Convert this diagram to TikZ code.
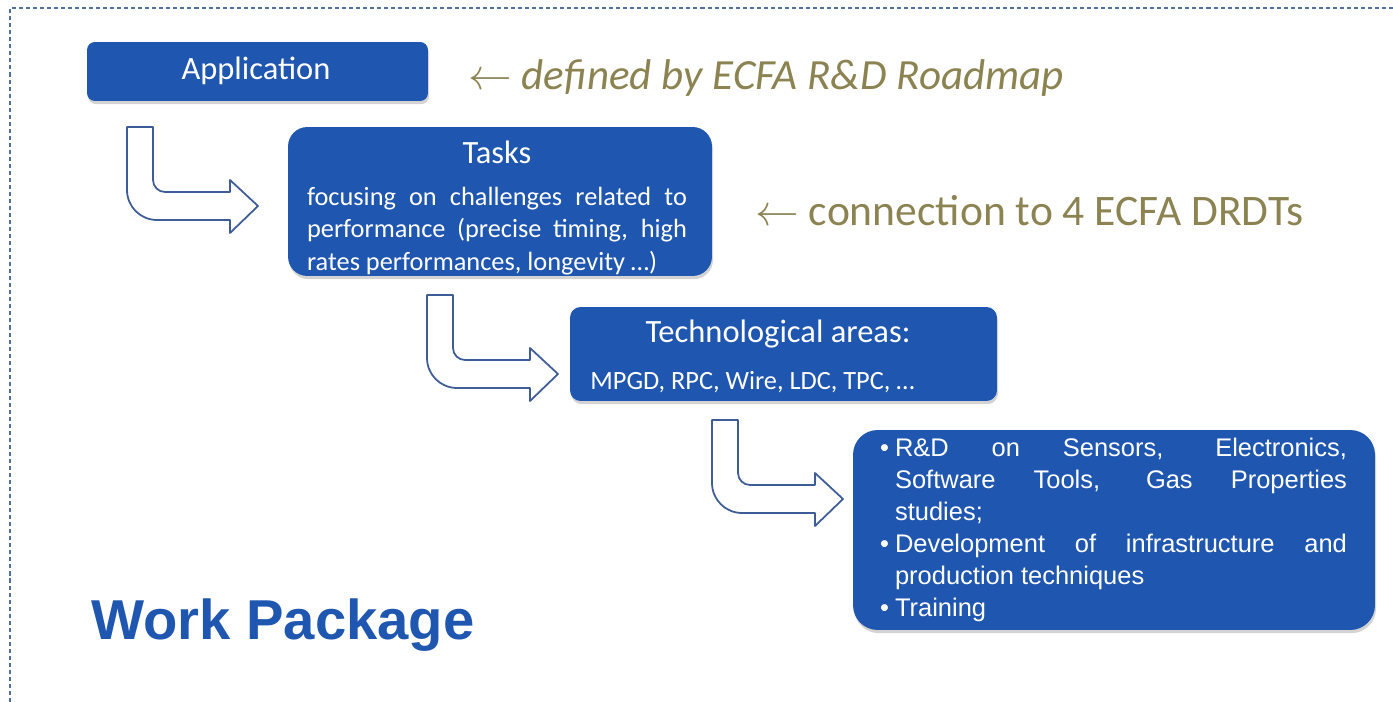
\documentclass[tikz,border=0pt]{standalone}
\usepackage{fontspec}
\setmainfont{Carlito}
\newfontfamily\arialfont{Liberation Sans}
\usepackage{tikz}
\usetikzlibrary{shadows}
\definecolor{wpblue}{RGB}{31,86,176}
\definecolor{arrline}{RGB}{62,92,150}
\definecolor{notecol}{RGB}{140,131,82}
\definecolor{framecol}{RGB}{80,110,160}

\begin{document}
\begin{tikzpicture}[x=0.02cm,y=-0.02cm]
	\tikzstyle{every node}=[font=\fontsize{15}{18.5}\selectfont, inner sep=0pt]
	\tikzstyle{box}=[fill=wpblue, draw=none, drop shadow={shadow xshift=0.6pt,shadow yshift=-1.8pt,opacity=0.35}]
	\tikzstyle{boxtitle}=[text=white, font=\fontsize{18.5}{22}\selectfont]
	\tikzstyle{boxtext}=[text=white]
	\tikzstyle{note}=[text=notecol, anchor=west, font=\fontsize{24.8}{28}\selectfont]
	\tikzstyle{bentarr}=[draw=arrline, line width=1pt, fill=white, line join=round]
	
	\useasboundingbox (0,0) rectangle (1393,702);
	\draw[framecol, line width=0.8pt, dash pattern=on 2.3pt off 1.7pt] (10,702) -- (10,8) -- (1393,8);
	
	% boxes
	\node[box, rounded corners=4.5pt, minimum width=6.82cm, minimum height=1.18cm] (app) at (257.5,71.5) {};
	\node[boxtitle] (apptitle) at (256,71) {Application};
	
	\node[box, rounded corners=11pt, minimum width=8.48cm, minimum height=2.98cm] (tasks) at (500,201.5) {};
	\node[boxtitle] (taskstitle) at (497,152) {Tasks};
	\node[boxtext, text width=7.6cm, align=justify] (taskstext) at (497,231) {focusing on challenges related to\linebreak performance (precise timing, high\linebreak rates performances, longevity …)};
	
	\node[box, rounded corners=6pt, minimum width=8.54cm, minimum height=1.88cm] (tech) at (783.5,354) {};
	\node[boxtitle] (techtitle) at (778,334) {Technological areas:};
	\node[boxtext, anchor=west] (techtext) at (590,382) {MPGD, RPC, Wire, LDC, TPC, …};
	
	\node[box, rounded corners=14pt, minimum width=10.44cm, minimum height=4cm] (rnd) at (1114,530) {};
	\node[boxtext, text width=9.34cm, align=justify, font=\arialfont\fontsize{14.5}{18.2}\selectfont] (rndtext) at (1113.5,530) {%
		\noindent\hangindent=0.3cm\hangafter=1\makebox[0.3cm][l]{\textbullet}R\&D on Sensors, Electronics,\linebreak Software Tools, Gas Properties\linebreak studies;\par
		\noindent\hangindent=0.3cm\hangafter=1\makebox[0.3cm][l]{\textbullet}Development of infrastructure and\linebreak production techniques\par
		\noindent\hangindent=0.3cm\hangafter=1\makebox[0.3cm][l]{\textbullet}Training};
	
	\node[text=wpblue, font=\arialfont\bfseries\fontsize{32}{36}\selectfont] (wp) at (283,625) {Work Package};
	
	\node[note, font=\itshape\fontsize{24.5}{28}\selectfont] (roadmap) at (468,78) {$\leftarrow$ defined by ECFA R\&D Roadmap};
	\node[note] (drdt) at (755,211) {$\leftarrow$ connection to 4 ECFA DRDTs};
	
	% bent arrows
	\begin{scope}[shift={(127,127)}]
	\draw[bentarr] (0,0) -- (26,0) -- (26,53) .. controls (26,59.6) and (31.4,65) .. (38,65) -- (103,65) -- (103,53) -- (131,79) -- (103,106) -- (103,93) -- (30,93) .. controls (13.4,93) and (0,79.6) .. (0,63) -- cycle;
	\end{scope}
	\begin{scope}[shift={(427,295)}]
	\draw[bentarr] (0,0) -- (26,0) -- (26,53) .. controls (26,59.6) and (31.4,65) .. (38,65) -- (103,65) -- (103,53) -- (131,79) -- (103,106) -- (103,93) -- (30,93) .. controls (13.4,93) and (0,79.6) .. (0,63) -- cycle;
	\end{scope}
	\begin{scope}[shift={(712,420)}]
	\draw[bentarr] (0,0) -- (26,0) -- (26,53) .. controls (26,59.6) and (31.4,65) .. (38,65) -- (103,65) -- (103,53) -- (131,79) -- (103,106) -- (103,93) -- (30,93) .. controls (13.4,93) and (0,79.6) .. (0,63) -- cycle;
	\end{scope}
	
\end{tikzpicture}
\end{document}
